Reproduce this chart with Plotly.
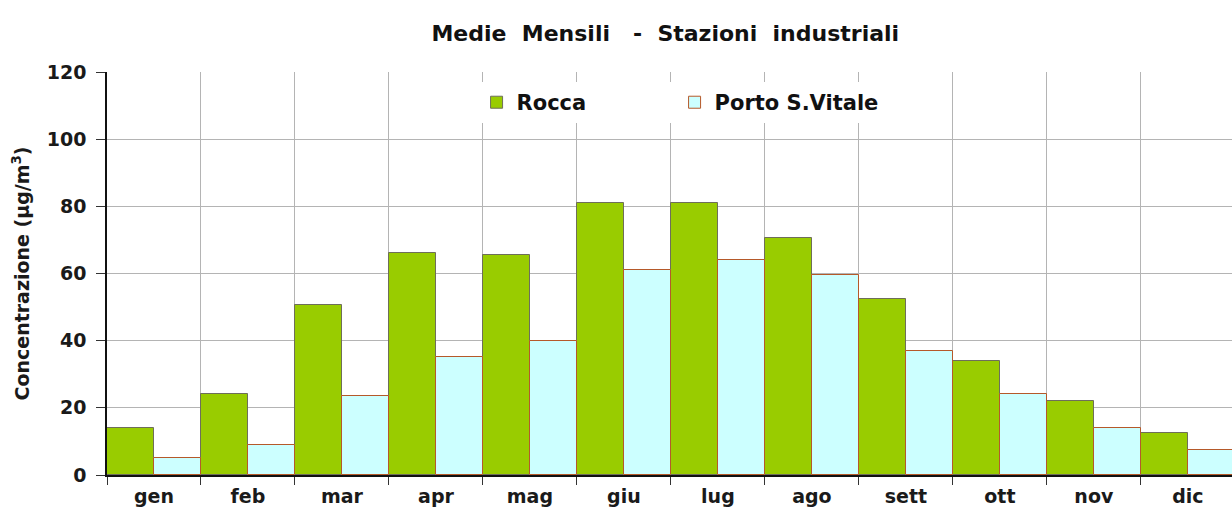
import plotly.graph_objects as go

mesi = ["gen", "feb", "mar", "apr", "mag", "giu", "lug", "ago", "sett", "ott", "nov", "dic"]
rocca = [14, 24, 50.5, 66, 65.5, 81, 81, 70.5, 52.5, 34, 22, 12.5]
porto_s_vitale = [5, 9, 23.5, 35, 40, 61, 64, 59.5, 37, 24, 14, 7.5]
y_ticks = [0, 20, 40, 60, 80, 100, 120]

font_family = "DejaVu Sans, Verdana, sans-serif"
text_color = "#1a1a1a"

fig = go.Figure()
fig.add_trace(go.Bar(
    x=mesi, y=rocca, name="Rocca", legend="legend", showlegend=True,
    marker=dict(color="#99CC00", line=dict(color="#6E6E5A", width=1)),
))
fig.add_trace(go.Bar(
    x=mesi, y=porto_s_vitale, name="Porto S.Vitale", legend="legend2", showlegend=True,
    marker=dict(color="#CCFFFF", line=dict(color="#B5592A", width=1)),
))

legend_common = dict(
    orientation="h", y=0.975, xanchor="left", yanchor="top",
    bgcolor="white", itemwidth=30, tracegroupgap=0, visible=True,
    font=dict(size=21, color="#111111", weight="bold"),
)

fig.update_layout(
    width=1232, height=513,
    margin=dict(l=107, r=0, t=72, b=38),
    paper_bgcolor="white", plot_bgcolor="white",
    showlegend=True,
    barmode="group", bargap=0, bargroupgap=0,
    font=dict(family=font_family, color=text_color, weight="bold"),
    title=dict(
        text="Medie  Mensili   -  Stazioni  industriali",
        x=0.54, xanchor="center", y=0.935, yanchor="middle",
        font=dict(size=22, color="#111111", weight="bold"),
    ),
    legend=dict(x=0.3285, entrywidth=156, entrywidthmode="pixels", **legend_common),
    legend2=dict(x=0.5045, **legend_common),
    xaxis=dict(
        range=[-0.5, 11.47],
        tickson="boundaries", ticks="outside", ticklen=8, tickcolor="#333333",
        ticklabelstandoff=3,
        showgrid=True, gridcolor="#B4B4B4", gridwidth=1,
        showline=True, linecolor="#111111", linewidth=1.5,
        tickfont=dict(size=19, color=text_color, weight="bold"),
    ),
    yaxis=dict(
        range=[0, 120], tickvals=y_ticks, ticks="outside", ticklen=9,
        tickcolor="#333333", ticklabelstandoff=6,
        showgrid=True, gridcolor="#B4B4B4", gridwidth=1,
        showline=True, linecolor="#111111", linewidth=1.5,
        zeroline=False,
        tickfont=dict(size=19, color=text_color, weight="bold"),
        title=dict(text="Concentrazione (µg/m<sup>3</sup>)",
                   font=dict(size=19, color=text_color, weight="bold"),
                   standoff=12),
    ),
)

fig.write_html("out.html")
